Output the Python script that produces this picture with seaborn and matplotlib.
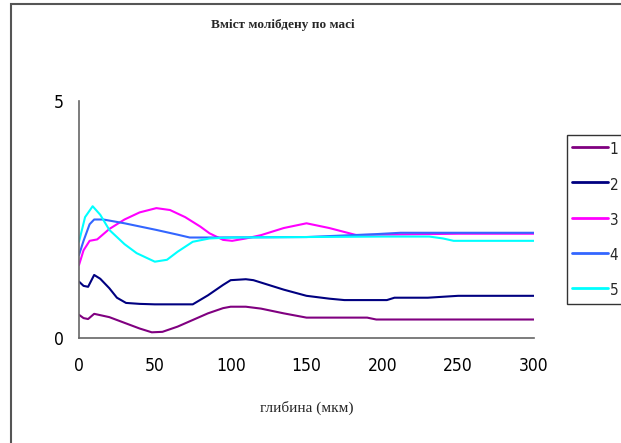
import matplotlib
matplotlib.use("Agg")
import matplotlib.pyplot as plt
import seaborn as sns
import pandas as pd
from matplotlib.patches import Rectangle

# ---- data ----
title = "Вміст молібдену по масі"
xlabel = "глибина (мкм)"
series_names = ["1", "2", "3", "4", "5"]
x_ticks = [0, 50, 100, 150, 200, 250, 300]
y_ticks = [0, 5]

s1_x = [0, 3, 6, 10, 20, 30, 40, 48, 55, 65, 75, 85, 95, 100, 110, 120, 135, 150, 170, 190, 196, 220, 250, 300]
s1_y = [0.49, 0.42, 0.40, 0.51, 0.44, 0.32, 0.20, 0.12, 0.13, 0.24, 0.38, 0.52, 0.63, 0.66, 0.66, 0.62, 0.52, 0.43, 0.43, 0.43, 0.39, 0.39, 0.39, 0.39]

s2_x = [0, 3, 6, 10, 14, 20, 25, 31, 40, 50, 60, 75, 85, 95, 100, 110, 115, 125, 135, 150, 165, 175, 190, 203, 208, 230, 250, 300]
s2_y = [1.19, 1.10, 1.08, 1.33, 1.25, 1.05, 0.85, 0.74, 0.72, 0.71, 0.71, 0.71, 0.90, 1.12, 1.22, 1.24, 1.22, 1.12, 1.02, 0.89, 0.83, 0.80, 0.80, 0.80, 0.85, 0.85, 0.89, 0.89]

s3_x = [0, 3, 7, 12, 20, 30, 40, 51, 60, 70, 80, 86, 95, 101, 110, 120, 135, 150, 165, 183, 200, 250, 300]
s3_y = [1.54, 1.85, 2.05, 2.08, 2.30, 2.50, 2.65, 2.74, 2.70, 2.55, 2.35, 2.21, 2.07, 2.05, 2.10, 2.17, 2.32, 2.42, 2.32, 2.17, 2.18, 2.20, 2.20]

s4_x = [0, 3, 7, 10, 16, 30, 51, 65, 73, 90, 150, 195, 212, 250, 300]
s4_y = [1.75, 2.05, 2.40, 2.50, 2.50, 2.42, 2.28, 2.18, 2.12, 2.12, 2.13, 2.19, 2.22, 2.22, 2.22]

s5_x = [0, 4, 9, 14, 20, 30, 38, 50, 58, 65, 75, 86, 100, 150, 200, 231, 240, 247, 260, 300]
s5_y = [2.03, 2.55, 2.78, 2.60, 2.28, 1.98, 1.79, 1.61, 1.65, 1.82, 2.03, 2.10, 2.12, 2.13, 2.14, 2.14, 2.10, 2.05, 2.05, 2.05]

colors = ["#800080", "#000080", "#FF00FF", "#3366FF", "#00FFFF"]

rows = []
for name, xs, ys in zip(series_names, [s1_x, s2_x, s3_x, s4_x, s5_x], [s1_y, s2_y, s3_y, s4_y, s5_y]):
    for xv, yv in zip(xs, ys):
        rows.append({"x": xv, "y": yv, "series": name})
df = pd.DataFrame(rows)

sns.set_style("white")
sans = ["Liberation Sans", "DejaVu Sans"]
serif = ["Liberation Serif", "DejaVu Serif"]
plt.rcParams["font.family"] = sans

fig = plt.figure(figsize=(6.21, 4.43), dpi=100)
fig.patch.set_facecolor("white")
ax = fig.add_axes([79 / 621, 105 / 443, 455 / 621, 237 / 443])

sns.lineplot(data=df, x="x", y="y", hue="series", palette=dict(zip(series_names, colors)),
             hue_order=series_names, linewidth=1.5, ax=ax, legend=False, sort=True)

ax.set_xlim(0, 300)
ax.set_ylim(0, 5)
ax.set_xticks(x_ticks)
ax.set_yticks(y_ticks)
ax.set_xticklabels([str(v) for v in x_ticks], family="DejaVu Sans", stretch="condensed", fontsize=12.5)
ax.set_yticklabels([str(v) for v in y_ticks], family="DejaVu Sans", stretch="condensed", fontsize=12.5)
ax.tick_params(axis="both", direction="out", length=4, width=1, color="#666666")
ax.tick_params(axis="x", pad=10, colors="black")
ax.tick_params(axis="y", pad=7, colors="black")
for side in ["top", "right"]:
    ax.spines[side].set_visible(False)
for side in ["left", "bottom"]:
    ax.spines[side].set_color("#666666")
    ax.spines[side].set_linewidth(1.2)

ax.set_ylabel("")
ax.set_xlabel(xlabel, family=serif, fontsize=11)
ax.xaxis.set_label_coords((307 - 79) / 455, (338 - 401) / 237)

fig.text(283 / 621, 1 - 25 / 443, title, family=serif, fontweight="bold", fontsize=9.5,
         ha="center", va="center")

handles = [plt.Line2D([], [], color=c, linewidth=2) for c in colors]
leg = ax.legend(handles, series_names, loc="upper left",
                bbox_to_anchor=(567 / 621, 1 - 135 / 443), bbox_transform=fig.transFigure,
                frameon=True, fancybox=False, borderaxespad=0, borderpad=0.33,
                labelspacing=1.08, handlelength=2.35, handleheight=1.5, handletextpad=0.12,
                prop={"family": "DejaVu Sans", "stretch": "condensed", "size": 11})
leg.get_frame().set_edgecolor("black")
leg.get_frame().set_linewidth(1)

fig.add_artist(Rectangle((10.5 / 621, -0.1), 1.5, (443 - 4.5) / 443 + 0.1,
                         transform=fig.transFigure, fill=False, edgecolor="#555555", linewidth=1.5))

fig.savefig("out.png", dpi=100, facecolor="white")
